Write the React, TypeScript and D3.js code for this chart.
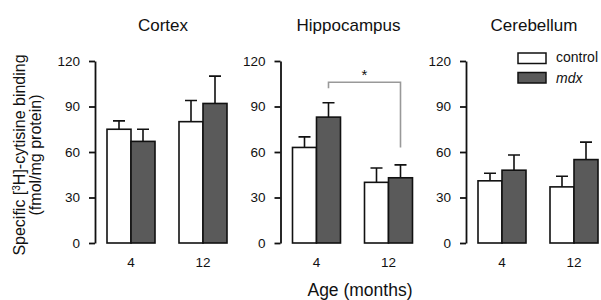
import React, { useRef, useEffect } from 'react';
import * as d3 from 'd3';

// values (fmol/mg protein), [region][age]
const regions = ['Cortex', 'Hippocampus', 'Cerebellum'];
const ages = ['4', '12'];
const groups = ['control', 'mdx'];
const controlMean = [[75, 80], [63, 40], [41, 37]];
const controlSem = [[5.5, 14], [7, 9.5], [5, 7]];
const mdxMean = [[67, 92], [83, 43], [48, 55]];
const mdxSem = [[8, 18], [9.5, 8.5], [10, 11.5]];
const yTicks = [0, 30, 60, 90, 120];
// significance bracket in Hippocampus: mdx 4 vs mdx 12
const sigLevel = 106;
const sigEnds = [102, 63];

const WIDTH = 601;
const HEIGHT = 300;
const FONT = '"Liberation Sans", Arial, Helvetica, sans-serif';
const FILLS: Record<string, string> = { control: '#ffffff', mdx: '#5a5a5a' };

function App() {
	const svgRef = useRef<SVGSVGElement>(null);

	useEffect(() => {
		const svg = d3.select(svgRef.current);
		svg.selectAll('*').remove();

		const rows = regions.flatMap((region, r) =>
			ages.flatMap((age, a) => [
				{ region, age, group: 'control', mean: controlMean[r][a], sem: controlSem[r][a] },
				{ region, age, group: 'mdx', mean: mdxMean[r][a], sem: mdxSem[r][a] },
			])
		);

		const yScale = d3.scaleLinear().domain([0, 120]).range([243, 61]);
		const panelScale = d3.scalePoint<string>().domain(regions).range([95, 466]);
		const ageScale = d3
			.scaleBand<string>()
			.domain(ages)
			.range([0, 144])
			.paddingInner(1 / 3)
			.paddingOuter(1 / 6);
		const groupScale = d3
			.scaleBand<string>()
			.domain(groups)
			.range([0, ageScale.bandwidth()]);

		regions.forEach((region) => {
			const g = svg.append('g').attr('transform', `translate(${panelScale(region)},0)`);

			// panel title
			g.append('text')
				.attr('x', 68)
				.attr('y', 31)
				.attr('text-anchor', 'middle')
				.style('font-size', '17px')
				.text(region);

			// y axis
			const yAxis = d3.axisLeft(yScale).tickValues(yTicks).tickSize(6).tickSizeOuter(0).tickPadding(9);
			const ax = g.append('g').call(yAxis);
			ax.select('.domain').attr('stroke', '#111').attr('stroke-width', 1.8);
			ax.selectAll('.tick line').attr('stroke', '#111').attr('stroke-width', 1.8);
			ax.selectAll('.tick text')
				.attr('fill', '#111')
				.style('font-size', '13.5px')
				.style('font-family', FONT);

			const data = rows.filter((d) => d.region === region);
			const bx = (d: any) => (ageScale(d.age) as number) + (groupScale(d.group) as number);
			const cx = (d: any) => bx(d) + groupScale.bandwidth() / 2;

			// error bars (upper only)
			g.selectAll('.err')
				.data(data)
				.join('path')
				.attr('class', 'err')
				.attr('fill', 'none')
				.attr('stroke', '#111')
				.attr('stroke-width', 1.6)
				.attr(
					'd',
					(d) =>
						`M${cx(d)},${yScale(d.mean)}V${yScale(d.mean + d.sem)}M${cx(d) - 6},${yScale(
							d.mean + d.sem
						)}H${cx(d) + 6}`
				);

			// bars
			g.selectAll('.bar')
				.data(data)
				.join('rect')
				.attr('class', 'bar')
				.attr('x', bx)
				.attr('width', groupScale.bandwidth())
				.attr('y', (d) => yScale(d.mean))
				.attr('height', (d) => yScale(0) - yScale(d.mean))
				.attr('fill', (d) => FILLS[d.group])
				.attr('stroke', '#111')
				.attr('stroke-width', 1.6);

			// age labels
			g.selectAll('.age')
				.data(ages)
				.join('text')
				.attr('class', 'age')
				.attr('x', (a) => (ageScale(a) as number) + ageScale.bandwidth() / 2)
				.attr('y', 267)
				.attr('text-anchor', 'middle')
				.style('font-size', '13.5px')
				.text((a) => a);

			if (region === 'Hippocampus') {
				const x1 = ageScale('4')! + groupScale('mdx')! + groupScale.bandwidth() / 2;
				const x2 = ageScale('12')! + groupScale('mdx')! + groupScale.bandwidth() / 2;
				g.append('path')
					.attr('fill', 'none')
					.attr('stroke', '#999')
					.attr('stroke-width', 1.6)
					.attr(
						'd',
						`M${x1},${yScale(sigEnds[0])}V${yScale(sigLevel)}H${x2}V${yScale(sigEnds[1])}`
					);
				g.append('text')
					.attr('x', (x1 + x2) / 2)
					.attr('y', 80)
					.attr('text-anchor', 'middle')
					.style('font-size', '15px')
					.text('*');
			}

			if (region === 'Cerebellum') {
				const lg = g.append('g').attr('transform', 'translate(52,0)');
				groups.forEach((grp, i) => {
					lg.append('rect')
						.attr('x', 0)
						.attr('y', 53 + i * 19.5)
						.attr('width', 28)
						.attr('height', 10.5)
						.attr('fill', FILLS[grp])
						.attr('stroke', '#111')
						.attr('stroke-width', 1.5);
					lg.append('text')
						.attr('x', 38)
						.attr('y', 62 + i * 20.5)
						.style('font-size', '14px')
						.style('font-style', grp === 'mdx' ? 'italic' : 'normal')
						.text(grp);
				});
			}
		});

		// y axis title
		const yt = svg
			.append('text')
			.attr('transform', 'translate(25,155) rotate(-90)')
			.attr('text-anchor', 'middle')
			.style('font-size', '16px');
		yt.append('tspan').text('Specific [');
		yt.append('tspan').attr('baseline-shift', 'super').style('font-size', '10px').text('3');
		yt.append('tspan').text('H]-cytisine binding');
		svg.append('text')
			.attr('transform', 'translate(41,155) rotate(-90)')
			.attr('text-anchor', 'middle')
			.style('font-size', '16px')
			.text('(fmol/mg protein)');

		// x axis title
		svg.append('text')
			.attr('x', 360)
			.attr('y', 296)
			.attr('text-anchor', 'middle')
			.style('font-size', '17.5px')
			.text('Age (months)');
	}, []);

	return (
		<svg
			ref={svgRef}
			width={WIDTH}
			height={HEIGHT}
			style={{ position: 'absolute', left: 0, top: 0, background: '#fff', fontFamily: FONT, fill: '#111' }}
		/>
	);
}

export default App;
